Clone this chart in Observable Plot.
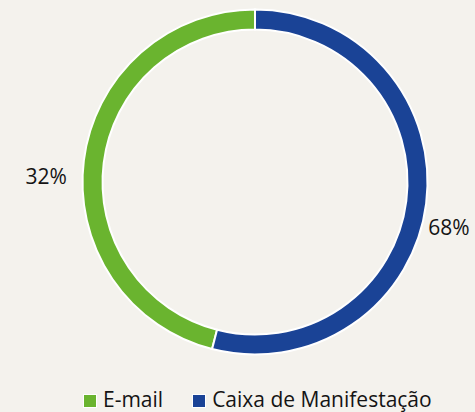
<!DOCTYPE html>
<html>
<head>
<meta charset="utf-8">
<script src="https://cdn.jsdelivr.net/npm/d3@7"></script>
<script src="https://cdn.jsdelivr.net/npm/@observablehq/plot@0.6"></script>
<style>
  html, body { margin: 0; padding: 0; background: #f4f2ed; }
  #chart { width: 475px; height: 412px; overflow: hidden; font-family: "Open Sans", sans-serif; color: #141414; }
  #legend { display: flex; align-items: center; padding-left: 83px; height: 32px; padding-top: 3px; font-size: 21px; }
  .item { display: flex; align-items: center; margin-right: 29px; }
  .sw { width: 12px; height: 12px; border: 1px solid #fff; margin-right: 6px; margin-top: 3px; }
</style>
</head>
<body>
<div id="chart"></div>
<script>
// ---- data ----
const categories = ["E-mail", "Caixa de Manifestação"];
// share of the ring drawn for each category
const arcShares = [46, 54];
// data labels as printed on the chart
const labels = ["32%", "68%"];
const colors = ["#6ab42f", "#1a4396"];

const data = categories.map((c, i) => ({category: c, share: arcShares[i], label: labels[i]}));

const total = d3.sum(arcShares);
const start = -2 * Math.PI * arcShares[0] / total; // Caixa begins at 12 o'clock
const pie = d3.pie().sort(null).value(d => d.share).startAngle(start).endAngle(start + 2 * Math.PI);
const arcs = pie(data);
const mid = a => (a.startAngle + a.endAngle) / 2;
const labelData = arcs.map(a => ({...a.data, angle: mid(a)}));

const colorScale = Plot.scale({color: {type: "ordinal", domain: categories, range: colors}});

function donut(index, scales) {
  const cx = scales.x(0), cy = scales.y(0);
  const R = scales.x(1) - cx;
  const arc = d3.arc().outerRadius(R).innerRadius(R * 0.884);
  const g = d3.create("svg:g").attr("transform", `translate(${cx},${cy})`);
  g.selectAll("path").data(arcs).join("path")
    .attr("d", arc)
    .attr("fill", d => colorScale.apply(d.data.category))
    .attr("stroke", "#fff")
    .attr("stroke-width", 2);
  return g.node();
}

const k = 1.177;
const plot = Plot.plot({
  width: 475,
  height: 380,
  marginLeft: 82.5,
  marginRight: 47.5,
  marginTop: 9.5,
  marginBottom: 25.5,
  style: {background: "transparent", fontFamily: "Open Sans, sans-serif"},
  x: {domain: [-1, 1], axis: null},
  y: {domain: [-1, 1], axis: null},
  marks: [
    donut,
    Plot.text(labelData, {
      x: d => Math.sin(d.angle) * k,
      y: d => Math.cos(d.angle) * k,
      text: "label",
      fontSize: 21,
      fill: "#141414",
      dx: -8,
      dy: 20
    })
  ]
});
document.getElementById("chart").appendChild(plot);

const legend = d3.select("#chart").append("div").attr("id", "legend");
const items = legend.selectAll(".item").data(categories).join("div").attr("class", "item");
items.append("div").attr("class", "sw").style("background", d => colorScale.apply(d));
items.append("span").text(d => d);
</script>
</body>
</html>
